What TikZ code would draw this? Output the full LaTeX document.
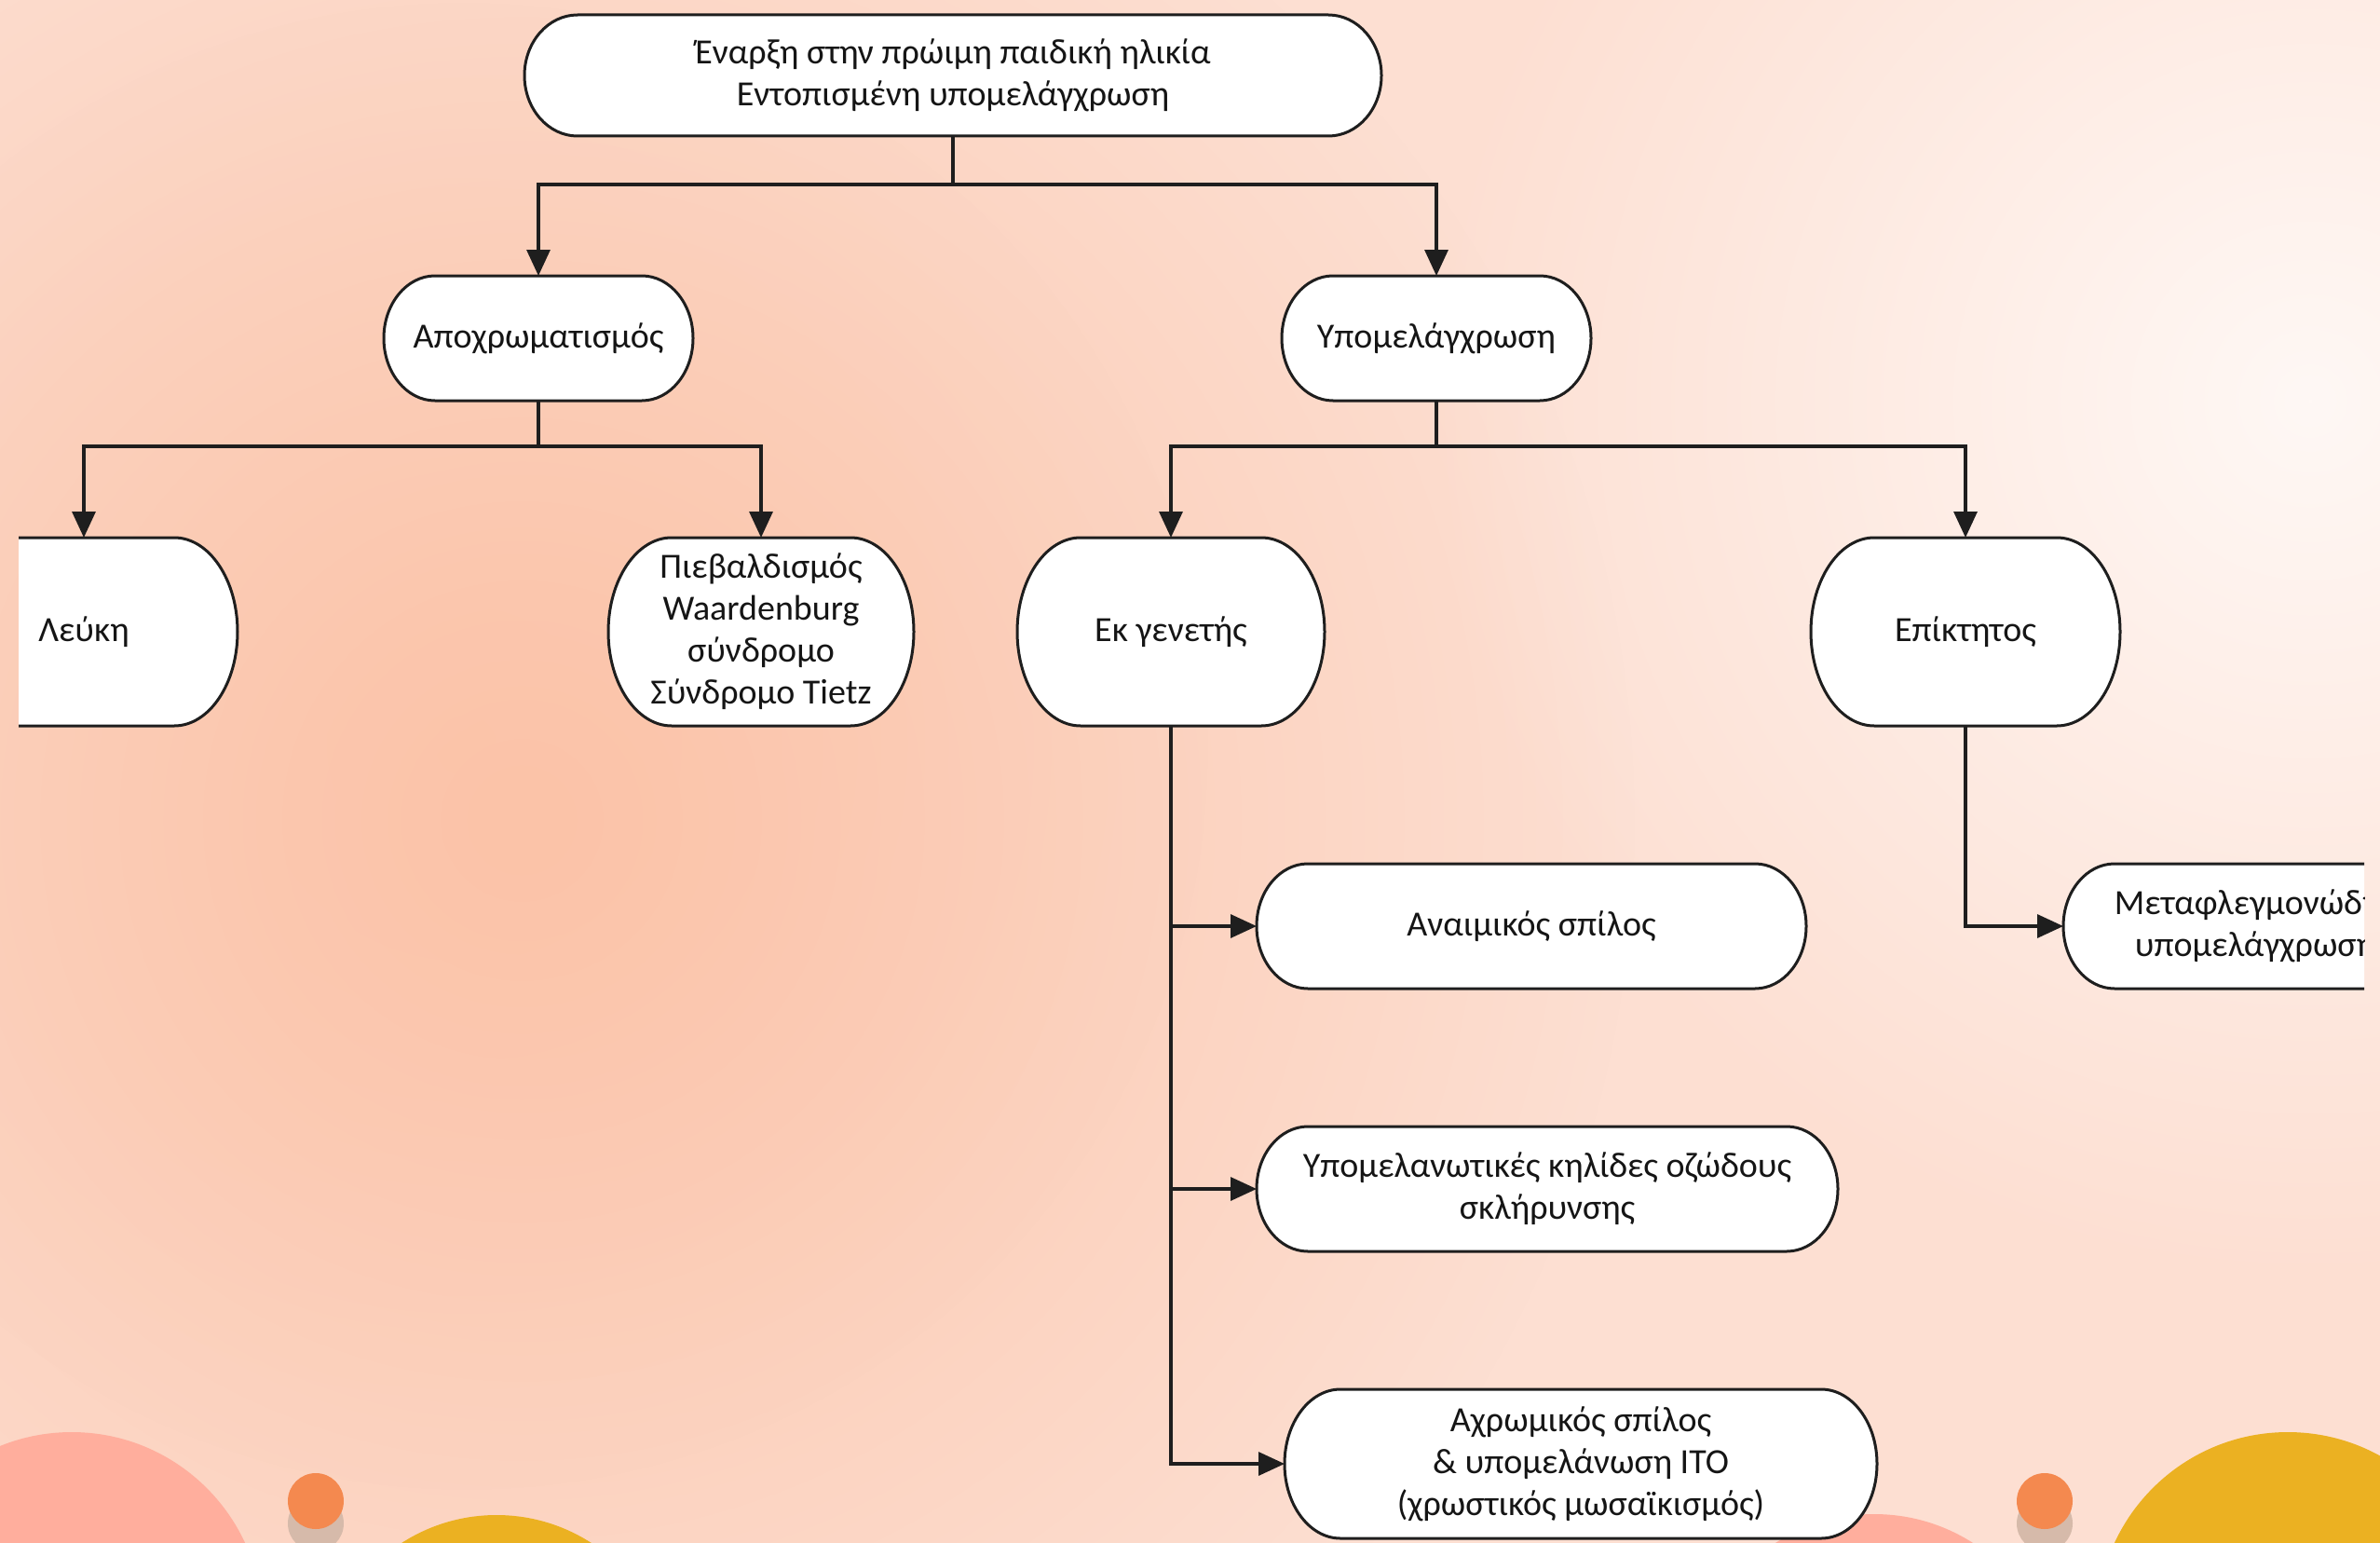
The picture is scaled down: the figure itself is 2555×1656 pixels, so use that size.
\documentclass[tikz,border=0pt]{standalone}
\usepackage{fontspec}
\setmainfont{Carlito}
\usetikzlibrary{arrows.meta,fadings}
\definecolor{bgbase}{HTML}{FDDFD2}
\definecolor{blobc}{HTML}{FBC3A8}
\definecolor{glowc}{HTML}{FFF8F5}
\definecolor{pinkc}{HTML}{FFAE9D}
\definecolor{orangec}{HTML}{F4894F}
\definecolor{shadowc}{HTML}{D6BAAA}
\definecolor{yellowc}{HTML}{EBB122}
\definecolor{linec}{HTML}{1E1E1E}
\definecolor{textc}{HTML}{151515}
\tikzfading[name=softfade, inner color=transparent!0, outer color=transparent!100]
\newcommand\capsule[7]{%
  \draw[capline] ({#2-#4+#6},{#3-#5}) -- ({#2+#4-#6},{#3-#5})
     arc[start angle=90, end angle=-90, x radius=#6pt, y radius=#5pt]
     -- ({#2-#4+#6},{#3+#5})
     arc[start angle=270, end angle=90, x radius=#6pt, y radius=#5pt] -- cycle;
  \node[txt, minimum width={2*#4pt}, minimum height={2*#5pt}] (#1) at (#2,#3) {#7};}
\begin{document}
\begin{tikzpicture}[x=1pt,y=-1pt,
  capline/.style={draw=linec, line width=3pt, fill=white},
  txt/.style={align=center, inner sep=0pt, outer sep=0pt, text=textc,
     font=\fontsize{38}{45}\selectfont},
  conn/.style={draw=linec, line width=3.3pt},
  arr/.style={conn, -{Triangle[length=28pt,width=25pt]}}]
\useasboundingbox (0,0) rectangle (2555,1656);
\clip (0,0) rectangle (2555,1656);
% background
\fill[bgbase] (0,0) rectangle (2555,1656);
\fill[blobc, path fading=softfade] (560,880) circle[radius=1200pt];
\fill[blobc, opacity=0.35, path fading=softfade] (500,800) circle[radius=800pt];
\fill[glowc, path fading=softfade] (2480,430) circle[radius=950pt];
% decorations
\fill[pinkc] (77,1742) circle[radius=205pt];
\fill[shadowc] (339,1635) circle[radius=30pt];
\fill[orangec] (339,1611) circle[radius=30pt];
\fill[yellowc] (533,1814) circle[radius=188pt];
\fill[pinkc] (2012,1822) circle[radius=197pt];
\fill[shadowc] (2195,1635) circle[radius=30pt];
\fill[orangec] (2195,1611) circle[radius=30pt];
\fill[yellowc] (2456,1742) circle[radius=205pt];
% nodes
\capsule{top}{1023}{81}{460}{65}{57}{Έναρξη στην πρώιμη παιδική ηλικία\\Εντοπισμένη υπομελάγχρωση}
\capsule{apo}{578}{363}{166}{67}{55}{Αποχρωματισμός}
\capsule{ypo}{1542}{363}{166}{67}{55}{Υπομελάγχρωση}
\begin{scope}
\clip (20,0) rectangle (2555,1656);
\capsule{leuki}{90}{678}{165}{101}{68}{Λεύκη}
\end{scope}
\capsule{pieb}{817}{678}{164}{101}{68}{Πιεβαλδισμός\\Waardenburg\\σύνδρομο\\Σύνδρομο Tietz}
\capsule{ek}{1257}{678}{165}{101}{68}{Εκ γενετής}
\capsule{epi}{2110}{678}{166}{101}{68}{Επίκτητος}
\capsule{an}{1644}{994}{295}{67}{55}{Αναιμικός σπίλος}
\capsule{ypl}{1661}{1276}{312}{67}{55}{Υπομελανωτικές κηλίδες οζώδους\\σκλήρυνσης}
\capsule{ax}{1697}{1571}{318}{80}{60}{Αχρωμικός σπίλος\\\& υπομελάνωση ITO\\(χρωστικός μωσαϊκισμός)}
\begin{scope}
\clip (0,0) rectangle (2538,1656);
\capsule{meta}{2421}{994}{206}{67}{55}{Μεταφλεγμονώδης\\υπομελάγχρωση}
\end{scope}
% connectors
\draw[arr] (top.south) -- ++(0,52) -| (apo.north);
\draw[arr] (top.south) -- ++(0,52) -| (ypo.north);
\draw[arr] (apo.south) -- ++(0,49) -| (leuki.north);
\draw[arr] (apo.south) -- ++(0,49) -| (pieb.north);
\draw[arr] (ypo.south) -- ++(0,49) -| (ek.north);
\draw[arr] (ypo.south) -- ++(0,49) -| (epi.north);
\draw[arr] (ek.south) |- (an.west);
\draw[arr] (ek.south) |- (ypl.west);
\draw[arr] (ek.south) |- (ax.west);
\draw[arr] (epi.south) |- (meta.west);
\end{tikzpicture}
\end{document}
